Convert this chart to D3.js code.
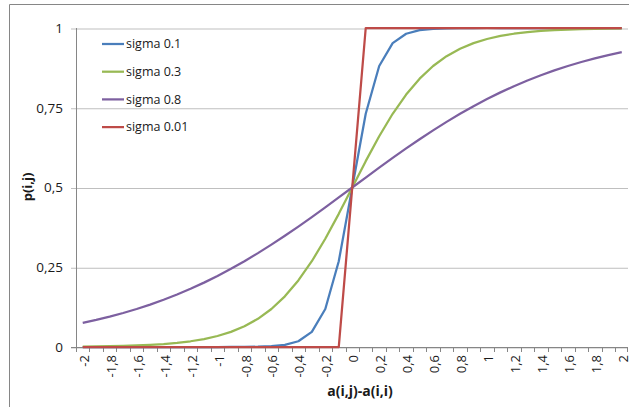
<!DOCTYPE html>
<html><head><meta charset="utf-8">
<script src="https://cdn.jsdelivr.net/npm/d3@7"></script>
<style>
html,body{margin:0;padding:0;background:#fff;}
svg{display:block;font-family:"Open Sans",sans-serif;}
</style></head>
<body><svg id="c" width="629" height="407"></svg>
<script>
// categories: a(i,j)-a(i,i)
const categories = [-2,-1.9,-1.8,-1.7,-1.6,-1.5,-1.4,-1.3,-1.2,-1.1,-1,-0.9,-0.8,-0.7,-0.6,-0.5,-0.4,-0.3,-0.2,-0.1,0,
  0.1,0.2,0.3,0.4,0.5,0.6,0.7,0.8,0.9,1,1.1,1.2,1.3,1.4,1.5,1.6,1.7,1.8,1.9,2];
const sigma01 = [0,0,0,0,0,0,0,0,0,0,0,0.0001,0.0003,0.0009,0.0025,0.0067,0.018,0.0474,0.1192,0.2689,0.5,
  0.7311,0.8808,0.9526,0.982,0.9933,0.9975,0.9991,0.9997,0.9999,1,1,1,1,1,1,1,1,1,1,1];
const sigma03 = [0.0013,0.0018,0.0025,0.0035,0.0048,0.0067,0.0093,0.013,0.018,0.0249,0.0345,0.0474,0.065,0.0884,0.1192,0.1589,0.2086,0.2689,0.3392,0.4174,0.5,
  0.5826,0.6608,0.7311,0.7914,0.8411,0.8808,0.9116,0.935,0.9526,0.9655,0.9751,0.982,0.987,0.9907,0.9933,0.9952,0.9965,0.9975,0.9982,0.9987];
const sigma08 = [0.0759,0.0851,0.0953,0.1067,0.1192,0.133,0.148,0.1645,0.1824,0.2018,0.2227,0.2451,0.2689,0.2942,0.3208,0.3487,0.3775,0.4073,0.4378,0.4688,0.5,
  0.5312,0.5622,0.5927,0.6225,0.6513,0.6792,0.7058,0.7311,0.7549,0.7773,0.7982,0.8176,0.8355,0.852,0.867,0.8808,0.8933,0.9047,0.9149,0.9241];
const sigma001 = [0,0,0,0,0,0,0,0,0,0,0,0,0,0,0,0,0,0,0,0,0.5,
  1,1,1,1,1,1,1,1,1,1,1,1,1,1,1,1,1,1,1,1];
const seriesNames = ["sigma 0.1","sigma 0.3","sigma 0.8","sigma 0.01"];
const seriesColors = ["#4a7ebb","#98b954","#7d60a0","#be4b48"];
const yTicks = [0,0.25,0.5,0.75,1];
const xTitle = "a(i,j)-a(i,i)";
const yTitle = "p(i,j)";

const allSeries = [sigma01, sigma03, sigma08, sigma001];
const svg = d3.select("#c");
const fmt = v => String(Math.round(v*100)/100).replace(".", ",");

// chart border
svg.append("path").attr("d","M9.5,420V4.5H640").attr("fill","none").attr("stroke","#868686").attr("stroke-width",1);

const x = d3.scaleBand().domain(categories.map(String)).range([76,628.5]).padding(0);
const y = d3.scaleLinear().domain([0,1]).range([347,28]);
const xEnd = 628;

// gridlines + y ticks
const yAxis = d3.axisLeft(y).tickValues(yTicks).tickSize(-(xEnd-71)).tickSizeOuter(0).tickFormat(fmt).tickPadding(8);
const gy = svg.append("g").attr("transform","translate(71,0)").call(yAxis);
gy.select(".domain").remove();
gy.selectAll(".tick line").attr("stroke","#bfbfbf").attr("transform","translate(0,0.5)");
gy.selectAll(".tick text").attr("font-size","13.5px").attr("fill","#1a1a1a").attr("font-family","Open Sans");

// y axis line
svg.append("line").attr("x1",76.5).attr("x2",76.5).attr("y1",28).attr("y2",347).attr("stroke","#868686");

// x axis
svg.append("line").attr("x1",71).attr("x2",xEnd).attr("y1",347.5).attr("y2",347.5).attr("stroke","#868686");
const bounds = categories.map(c => x(String(c))).concat([x(String(categories[categories.length-1])) + x.bandwidth()]);
svg.append("g").selectAll("line").data(bounds).join("line")
  .attr("x1",d=>Math.min(Math.round(d),627)+0.5).attr("x2",d=>Math.min(Math.round(d),627)+0.5).attr("y1",347).attr("y2",352)
  .attr("stroke","#868686");
svg.append("g").selectAll("text").data(categories.filter((c,i)=>i%2===0)).join("text")
  .attr("transform",d=>`translate(${x(String(d))+x.bandwidth()/2+1.5},355) rotate(-90)`)
  .attr("text-anchor","end").attr("dy","0.35em")
  .attr("font-size","13px").attr("fill","#1a1a1a")
  .text(d=>fmt(d));

// lines
const line = d3.line().x((d,i)=>x(String(categories[i]))+x.bandwidth()/2).y(d=>y(d));
allSeries.forEach((s,k)=>{
  svg.append("path").datum(s).attr("d",line).attr("fill","none")
    .attr("stroke",seriesColors[k]).attr("stroke-width",2.25).attr("stroke-linejoin","round");
});

// legend
const lg = svg.append("g");
seriesNames.forEach((n,k)=>{
  const yy = 44 + k*27.7;
  lg.append("line").attr("x1",102).attr("x2",124).attr("y1",yy).attr("y2",yy)
    .attr("stroke",seriesColors[k]).attr("stroke-width",2.25);
  lg.append("text").attr("x",126).attr("y",yy).attr("dy","0.35em")
    .attr("font-size","12.5px").attr("fill","#1a1a1a").text(n);
});

// titles
svg.append("text").attr("transform","translate(27,187) rotate(-90)").attr("text-anchor","middle")
  .attr("dy","0.35em").attr("font-weight","bold").attr("font-size","13px").attr("fill","#1a1a1a").text(yTitle);
svg.append("text").attr("x",360).attr("y",396).attr("text-anchor","middle")
  .attr("font-weight","bold").attr("font-size","14px").attr("fill","#1a1a1a").text(xTitle);
</script></body></html>
